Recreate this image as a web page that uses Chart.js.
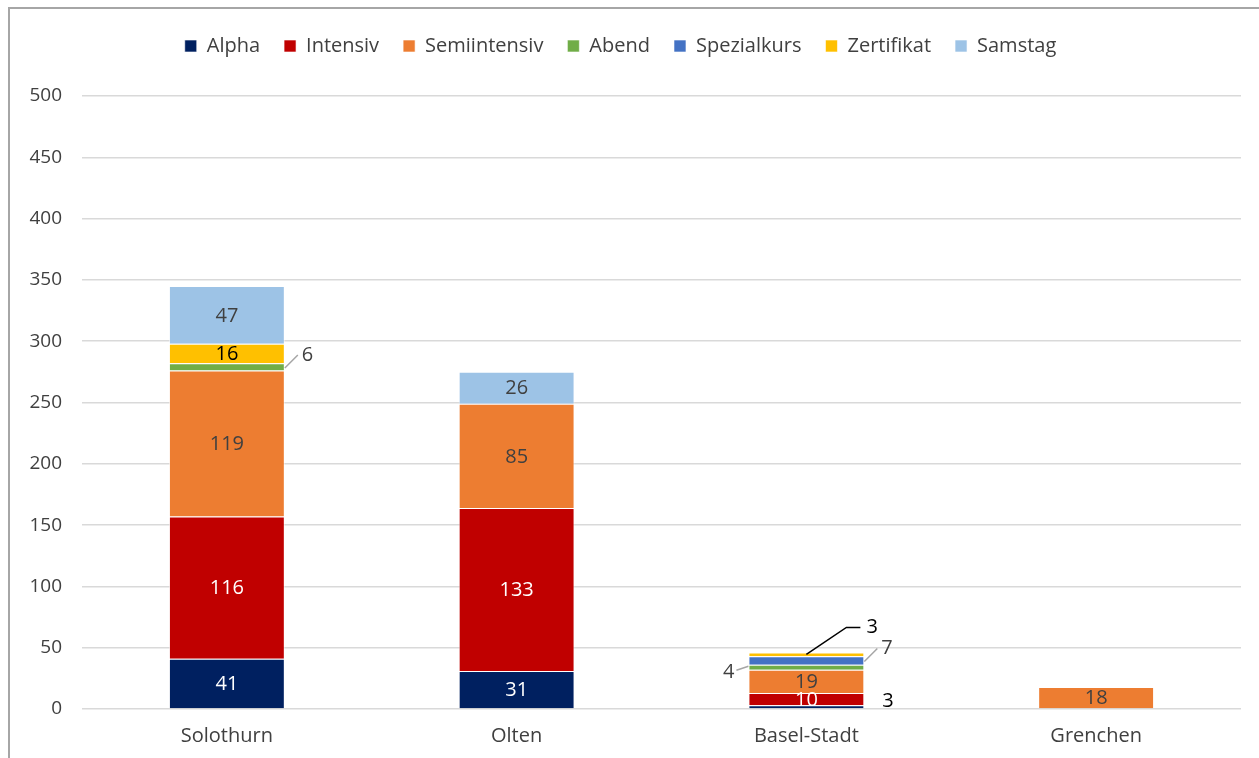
<!DOCTYPE html>
<html>
<head>
<meta charset="utf-8">
<script src="https://cdn.jsdelivr.net/npm/chart.js@4"></script>
<style>
  html, body { margin: 0; padding: 0; background: #fff; }
  #wrap { position: relative; width: 1259px; height: 758px; }
  #frame { position: absolute; left: 8px; top: 7px; right: -4px; bottom: -4px;
           border-left: 2px solid #a6a6a6; border-top: 2px solid #a6a6a6; }
  canvas { position: absolute; left: 0; top: 0; }
</style>
</head>
<body>
<div id="wrap">
  <div id="frame"></div>
  <canvas id="chart" width="1259" height="758"></canvas>
</div>
<script>
// Kurse pro Standort (gestapelt)
const standorte = ["Solothurn", "Olten", "Basel-Stadt", "Grenchen"];
const alpha        = [41, 31, 3, null];
const intensiv     = [116, 133, 10, null];
const semiintensiv = [119, 85, 19, 18];
const abend        = [6, null, 4, null];
const spezialkurs  = [null, null, 7, null];
const zertifikat   = [16, null, 3, null];
const samstag      = [47, 26, null, null];
const yTicks = [0, 50, 100, 150, 200, 250, 300, 350, 400, 450, 500];

const FONT = "'Open Sans', 'Noto Sans', sans-serif";

const series = [
  { label: "Alpha",        data: alpha,        color: "#002060", text: "#ffffff" },
  { label: "Intensiv",     data: intensiv,     color: "#c00000", text: "#ffffff" },
  { label: "Semiintensiv", data: semiintensiv, color: "#ed7d31", text: "#404040" },
  { label: "Abend",        data: abend,        color: "#70ad47", text: "#404040" },
  { label: "Spezialkurs",  data: spezialkurs,  color: "#4472c4", text: "#404040" },
  { label: "Zertifikat",   data: zertifikat,   color: "#ffc000", text: "#000000" },
  { label: "Samstag",      data: samstag,      color: "#9dc3e6", text: "#404040" },
];

// Beschriftungen ausserhalb der Balken (zu schmale Segmente)
// key: "datasetIndex-categoryIndex"
const outside = {
  "3-0": "right",   // Abend Solothurn
  "0-2": "right0",  // Alpha Basel
  "3-2": "left",    // Abend Basel
  "4-2": "right",   // Spezialkurs Basel
  "5-2": "above",   // Zertifikat Basel
};

const valueLabels = {
  id: "valueLabels",
  afterDatasetsDraw(chart) {
    const ctx = chart.ctx;
    ctx.save();
    ctx.font = "20px " + FONT;
    ctx.textBaseline = "middle";
    chart.data.datasets.forEach((ds, di) => {
      const meta = chart.getDatasetMeta(di);
      meta.data.forEach((bar, i) => {
        const v = ds.data[i];
        if (v == null) return;
        const p = bar.getProps(["x", "y", "base", "width"], true);
        const cy = (p.y + p.base) / 2;
        const left = p.x - p.width / 2, right = p.x + p.width / 2;
        const mode = outside[di + "-" + i];
        ctx.lineWidth = 1.5;
        if (!mode) {
          ctx.fillStyle = series[di].text;
          ctx.textAlign = "center";
          ctx.fillText(v, p.x, cy + 1);
        } else if (mode === "right") {
          ctx.strokeStyle = "#a6a6a6";
          ctx.beginPath();
          ctx.moveTo(right, cy + 1);
          ctx.lineTo(right + 13, cy - 12);
          ctx.stroke();
          ctx.fillStyle = "#404040";
          ctx.textAlign = "left";
          ctx.fillText(v, right + 17, cy - 12);
        } else if (mode === "right0") {
          ctx.fillStyle = "#000000";
          ctx.textAlign = "left";
          ctx.fillText(v, right + 18, cy - 5);
        } else if (mode === "left") {
          ctx.strokeStyle = "#a6a6a6";
          ctx.beginPath();
          ctx.moveTo(left, cy - 1);
          ctx.lineTo(left - 12, cy + 3);
          ctx.stroke();
          ctx.fillStyle = "#404040";
          ctx.textAlign = "right";
          ctx.fillText(v, left - 14, cy + 5);
        } else if (mode === "above") {
          ctx.strokeStyle = "#000000";
          ctx.beginPath();
          ctx.moveTo(p.x, cy);
          ctx.lineTo(p.x + 40, cy - 27);
          ctx.lineTo(p.x + 54, cy - 27);
          ctx.stroke();
          ctx.fillStyle = "#000000";
          ctx.textAlign = "left";
          ctx.fillText(v, p.x + 60, cy - 27);
        }
      });
    });
    ctx.restore();
  },
};

const legendHeight = {
  id: "legendHeight",
  afterInit(chart) {
    const lg = chart.legend;
    if (!lg) return;
    const fit = lg.fit;
    lg.fit = function () {
      fit.call(this);
      this.height = 84;
    };
  },
};

new Chart(document.getElementById("chart"), {
  type: "bar",
  data: {
    labels: standorte,
    datasets: series.map((s) => ({
      label: s.label,
      data: s.data,
      backgroundColor: s.color,
      borderColor: "rgba(255,255,255,0.6)",
      borderWidth: 1,
      categoryPercentage: 1,
      barPercentage: 0.4,
    })),
  },
  options: {
    responsive: false,
    animation: false,
    layout: { padding: { top: 12, right: 18, bottom: 0, left: 0 } },
    plugins: {
      tooltip: { enabled: false },
      legend: {
        position: "top",
        labels: {
          boxWidth: 12,
          boxHeight: 12,
          padding: 24,
          color: "#404040",
          font: { family: FONT, size: 20 },
        },
      },
    },
    scales: {
      x: {
        stacked: true,
        afterFit(scale) { scale.height = 49; },
        grid: { display: false, drawTicks: false },
        border: { display: false },
        ticks: { color: "#404040", padding: 15, font: { family: FONT, size: 20 } },
      },
      y: {
        stacked: true,
        min: 0,
        max: 500,
        afterFit(scale) { scale.width = 82; },
        afterBuildTicks(scale) { scale.ticks = yTicks.map((v) => ({ value: v })); },
        grid: { color: "#d9d9d9", lineWidth: 1.5, drawTicks: false },
        border: { display: false },
        ticks: { color: "#404040", padding: 20, font: { family: FONT, size: 19 } },
      },
    },
  },
  plugins: [legendHeight, valueLabels],
});
</script>
</body>
</html>
